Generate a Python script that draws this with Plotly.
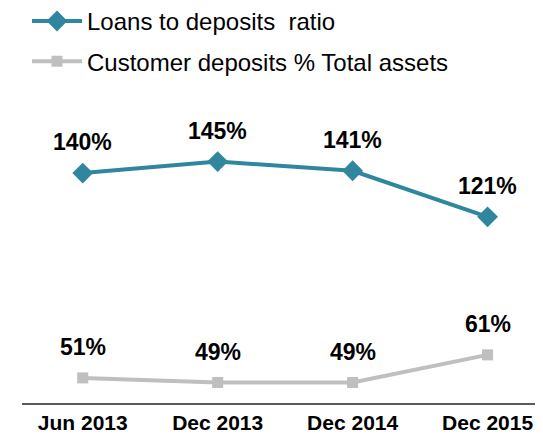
import plotly.graph_objects as go

categories = ["Jun 2013", "Dec 2013", "Dec 2014", "Dec 2015"]
loans_to_deposits = [140, 145, 141, 121]
deposits_pct_assets = [51, 49, 49, 61]
label_loans = ["140%", "145%", "141%", "121%"]
label_deposits = ["51%", "49%", "49%", "61%"]

teal = "#31869F"
grey = "#BFBFBF"

fig = go.Figure()
fig.add_trace(go.Scatter(
    x=categories, y=loans_to_deposits, mode="lines+markers",
    name="Loans to deposits  ratio",
    line=dict(color=teal, width=4),
    marker=dict(symbol="diamond", size=16, color=teal),
    legendgroup="a",
))
fig.add_trace(go.Scatter(
    x=categories, y=deposits_pct_assets, mode="lines+markers",
    name="Customer deposits % Total assets",
    line=dict(color=grey, width=4),
    marker=dict(symbol="square", size=11, color=grey),
    legendgroup="b",
))

for xs, ys, labels in [(categories, loans_to_deposits, label_loans),
                       (categories, deposits_pct_assets, label_deposits)]:
    for xv, yv, t in zip(xs, ys, labels):
        fig.add_annotation(x=xv, y=yv, text=t, showarrow=False,
                           yshift=31, yanchor="middle",
                           font=dict(family="Liberation Sans, Arial", size=23,
                                     color="#000000", weight="bold"))

fig.update_layout(
    width=543, height=438,
    margin=dict(l=14, r=0, t=93, b=43, autoexpand=False),
    plot_bgcolor="white", paper_bgcolor="white",
    font=dict(family="Liberation Sans, Arial", color="#000000"),
    showlegend=True,
    legend=dict(
        x=0.035, y=1.338, xref="container", yref="paper",
        xanchor="left", yanchor="top",
        font=dict(size=24, family="Liberation Sans, Arial"),
        traceorder="grouped", tracegroupgap=6,
        itemwidth=50,
        bgcolor="rgba(0,0,0,0)",
    ),
    xaxis=dict(
        type="category", range=[-0.45, 3.47],
        showline=True, linecolor="#595959", linewidth=2,
        showgrid=False, ticks="", tickangle=0,
        tickfont=dict(size=21, family="Liberation Sans, Arial", weight="bold"),
        fixedrange=True,
    ),
    yaxis=dict(range=[40.1, 171.3], visible=False, showgrid=False, zeroline=False),
)

fig.write_html("out.html")
